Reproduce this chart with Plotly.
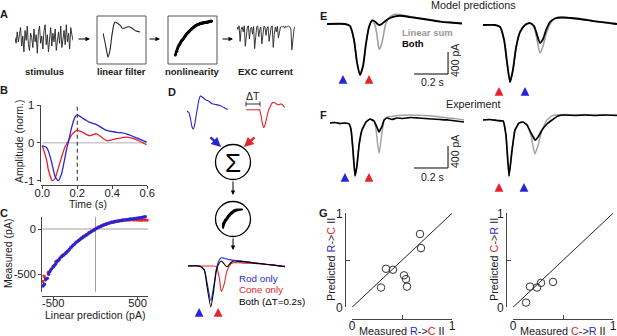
import plotly.graph_objects as go

W, H = 617, 336
FONT = "Liberation Sans, Arial, Helvetica, sans-serif"
BLUE = "#2626d6"
RED = "#e3242b"
LGRAY = "#a0a0a0"
AXC = "#444444"
TXT = "#1a1a1a"

# ---------------- data ----------------
# A: schematic LN model
a_stimulus = [0.1, -0.3, 0.5, -0.2, 0.3, 0.8, -0.5, 0.2, -0.9, 0.6, -0.1, 0.9, -0.4, -0.8, 0.4, 0.1,
              -0.6, 0.7, -0.2, 0.3, -1.0, 0.5, 0.9, -0.3, 0.2, -0.7, 0.6, 1.0, -0.4, 0.3, -0.9, 0.2,
              0.8, -0.5, 0.4, -0.2, 0.7, -0.8, 0.1, 0.5, -0.3, 0.9, -0.6, 0.2, 0.6, -0.4, 1.0, -0.2,
              0.4, -0.7, 0.8, 0.3, -0.1]
a_filter_t = [0, 0.032, 0.065, 0.081, 0.114, 0.146, 0.178, 0.195, 0.227, 0.276, 0.308, 0.357,
              0.389, 0.438, 0.486, 0.535, 0.6]
a_filter = [0, -0.375, -0.83, -1.0, -0.71, -0.08, 0.375, 0.46, 0.42, 0.33, 0.21, 0.21, 0.25,
            0.25, 0.17, 0.08, 0.04]
a_exc = [0, -0.1, 0.05, -0.6, -0.1, 0, -0.2, 0.05, -0.8, -0.2, 0, 0.05, -0.5, -0.1, 0, -0.3, 0.02,
         -0.9, -0.3, 0, 0.05, -0.4, -0.1, 0, -0.7, -0.2, 0.03, 0, -0.35, -0.05, 0.02, -0.6, -0.15, 0,
         0.05, -0.85, -0.3, 0, -0.2, 0.03, -0.45, -0.1, 0, 0.02, 0, 0.04, -0.05, 0.03, 0, 0.02, 0.04,
         0, -0.1, -0.95, -0.5, -0.1, 0.02]

# B: linear filters (normalised)
b_time = [0.0, 0.025, 0.034, 0.053, 0.057, 0.072, 0.082, 0.091, 0.11, 0.13, 0.139, 0.149, 0.168,
          0.187, 0.2, 0.234, 0.253, 0.272, 0.31, 0.367, 0.425, 0.48, 0.54, 0.596]
b_rod = [-0.07, -0.12, -0.2, -0.5, -0.58, -0.87, -0.96, -1.0, -0.82, -0.38, -0.17, 0.02, 0.41,
         0.68, 0.74, 0.64, 0.59, 0.54, 0.48, 0.33, 0.28, 0.24, 0.13, 0.02]
b_cone = [-0.07, -0.45, -0.69, -0.97, -1.0, -0.95, -0.82, -0.68, -0.38, -0.1, -0.03, 0.05, 0.21,
          0.3, 0.33, 0.27, 0.22, 0.19, 0.24, 0.06, 0.11, 0.15, 0.08, -0.05]
b_peak_time = 0.2

# C: static nonlinearity (pA)
c_rod_x = [-620, -605, -590, -570, -555, -540, -520, -500, -485, -470, -455, -440, -420, -400, -385,
           -370, -350, -330, -310, -290, -270, -250, -230, -210, -190, -170, -150, -130, -110, -90,
           -70, -50, -30, -10, 10, 30, 50, 70, 90, 110, 130, 150, 170, 190, 210, 230, 250, 270, 290,
           310, 330, 350, 370, 390, 410, 430, 450, 470, 490, 510, 530, 550, 570, 590, 610]
c_rod_y = [-630, -610, -560, -545, -500, -470, -440, -420, -400, -385, -360, -345, -320, -305, -290,
           -280, -262, -245, -225, -205, -185, -168, -150, -135, -122, -108, -93, -80, -68, -55,
           -42, -30, -18, -8, 5, 15, 24, 33, 42, 50, 56, 62, 68, 74, 78, 83, 87, 90, 93,
           96, 99, 101, 104, 107, 110, 112, 114, 117, 120, 123, 125, 128, 132, 136, 140]
c_cone_x = [-625, -610, -595, -560, -530, -500, -470, -450, -430, -400, -380, -350, -320, -290, -260,
            -230, -200, -170, -140, -110, -80, -50, -20, 10, 40, 70, 100, 130, 160, 190, 220, 250,
            280, 310, 340, 370, 400, 430, 460, 490, 520, 550, 580, 610]
c_cone_y = [-580, -520, -540, -480, -450, -410, -360, -350, -340, -300, -290, -270, -240, -205, -175,
            -145, -125, -100, -80, -62, -42, -25, -8, 8, 22, 34, 45, 56, 65, 72, 78, 83, 88, 92,
            96, 98, 100, 101, 100, 100, 98, 97, 100, 98]

# D: model output for rod / cone / both (normalised)
d_time = [0.0, 0.12, 0.17, 0.2, 0.24, 0.27, 0.3, 0.33, 0.35, 0.38, 0.41, 0.45, 0.48, 0.53, 0.6,
          0.7, 0.8, 0.9, 1.02]
d_rod = [0, 0, -0.08, -0.4, -0.85, -0.5, -0.05, 0.15, 0.2, 0.19, 0.17, 0.15, 0.14, 0.13, 0.11,
         0.08, 0.05, 0.02, -0.02]
d_cone = [0, 0, 0, 0, 0, 0, -0.02, -0.3, -0.62, -0.45, -0.12, 0.05, 0.08, 0.08, 0.07, 0.06, 0.04,
          0.02, 0]
d_both = [0, 0, -0.1, -0.5, -1.0, -0.6, -0.1, 0.08, 0.12, 0.05, -0.02, 0.08, 0.12, 0.11, 0.1,
          0.07, 0.05, 0.02, -0.02]
d_delay = 0.2
d_rod_flash, d_cone_flash = 0.117, 0.317

# E: model predictions (pA), left = rod first, right = cone first
e1_t = [0.0, 0.106, 0.135, 0.159, 0.176, 0.194, 0.212, 0.229, 0.247, 0.265, 0.282, 0.294, 0.306,
        0.312, 0.324, 0.335, 0.347, 0.371, 0.4, 0.429, 0.488, 0.547, 0.606, 0.665, 0.724, 0.794]
e1_both = [0, 0, -36, -290, -690, -927, -764, -364, -55, 64, 45, 10, -18, -15, 5, 35, 65, 110, 140,
           150, 127, 100, 73, 45, 27, 9]
e1_sum = [0, 0, -36, -290, -690, -927, -764, -364, -55, 64, -20, -200, -455, -440, -330, -150, 20,
          130, 175, 170, 135, 105, 78, 50, 30, 12]
e1_flash_rod, e1_flash_cone = 0.094, 0.247
e2_t = [0.0, 0.071, 0.1, 0.124, 0.141, 0.159, 0.176, 0.194, 0.218, 0.247, 0.276, 0.3, 0.318, 0.335,
        0.353, 0.371, 0.394, 0.424, 0.465, 0.512, 0.571, 0.629, 0.688, 0.747, 0.788]
e2_both = [0, 0, -36, -273, -673, -1036, -818, -418, -127, 0, 36, -18, -182, -327, -255, -91, 55,
           118, 136, 127, 109, 82, 55, 36, 18]
e2_sum = [0, 0, -36, -273, -673, -1036, -818, -418, -127, 0, 36, -40, -273, -509, -382, -164, 18,
          125, 140, 130, 112, 85, 58, 38, 20]
e2_flash_cone, e2_flash_rod = 0.094, 0.247

# F: experiment (pA)
f1_t = [0.0, 0.029, 0.059, 0.088, 0.112, 0.124, 0.135, 0.147, 0.159, 0.171, 0.188, 0.212, 0.235,
        0.259, 0.271, 0.282, 0.288, 0.294, 0.306, 0.318, 0.335, 0.365, 0.394, 0.429, 0.471, 0.518,
        0.559, 0.6, 0.647, 0.694, 0.741, 0.788]
f1_both = [0, 9, -9, 0, -18, -127, -491, -964, -764, -400, -127, 18, 73, 36, -40, -120, -164, -130,
           -60, 55, 91, 64, 91, 82, 100, 91, 82, 73, 64, 55, 36, 18]
f1_sum = [0, 9, -9, 0, -18, -127, -491, -964, -764, -400, -127, 18, 73, 30, -127, -436, -545, -455,
          -164, 36, 109, 120, 136, 140, 145, 140, 136, 127, 109, 91, 80, 55]
f1_flash_rod, f1_flash_cone = 0.088, 0.229
f2_t = [0.0, 0.041, 0.082, 0.118, 0.135, 0.153, 0.171, 0.188, 0.212, 0.235, 0.259, 0.282, 0.294,
        0.306, 0.324, 0.347, 0.376, 0.406, 0.441, 0.482, 0.541, 0.6, 0.659, 0.718, 0.788]
f2_both = [0, 9, -9, -18, -273, -1018, -545, -182, -55, -36, -91, -236, -300, -364, -309, -182, -73,
           0, 73, 91, 82, 91, 82, 91, 82]
f2_sum = [0, 9, -9, -18, -273, -1018, -545, -182, -55, -36, -91, -273, -480, -618, -455, -182, 0,
          73, 95, 100, 95, 100, 92, 98, 90]
f2_flash_cone, f2_flash_rod = 0.094, 0.241

scale_t, scale_pA = 0.2, 400

# G: interaction index
g1_meas = [0.29, 0.34, 0.41, 0.52, 0.54, 0.55, 0.68, 0.69]
g1_pred = [0.21, 0.41, 0.40, 0.34, 0.30, 0.22, 0.78, 0.63]
g2_meas = [0.13, 0.17, 0.24, 0.28, 0.40]
g2_pred = [0.05, 0.22, 0.21, 0.26, 0.27]
g_unity = [0, 1]

# ---------------- helpers ----------------
fig = go.Figure()
layout = {}
annotations = []
shapes = []
_n = [0]


def px(x):
    return x / W


def py(y):
    return 1 - y / H


def new_axes(x0, x1, y0, y1, xr, yr, xkw=None, ykw=None):
    _n[0] += 1
    s = "" if _n[0] == 1 else str(_n[0])
    xa = dict(domain=[px(x0), px(x1)], range=xr, anchor="y" + s, visible=False,
              showgrid=False, zeroline=False, fixedrange=True, automargin=False)
    ya = dict(domain=[py(y1), py(y0)], range=yr, anchor="x" + s, visible=False,
              showgrid=False, zeroline=False, fixedrange=True, automargin=False)
    if xkw:
        xa.update(xkw)
    if ykw:
        ya.update(ykw)
    layout["xaxis" + s] = xa
    layout["yaxis" + s] = ya
    return "x" + s, "y" + s


def line(ax, x, y, color, width=1.3, dash=None, shape="spline", smooth=0.6):
    fig.add_trace(go.Scatter(x=x, y=y, xaxis=ax[0], yaxis=ax[1], mode="lines",
                             line=dict(color=color, width=width, dash=dash, shape=shape,
                                       smoothing=smooth if shape == "spline" else None),
                             hoverinfo="skip", cliponaxis=False))


def dots(ax, x, y, color, size=3.5, symbol="circle", lw=0):
    fig.add_trace(go.Scatter(x=x, y=y, xaxis=ax[0], yaxis=ax[1], mode="markers",
                             marker=dict(color=color, size=size, symbol=symbol,
                                         line=dict(width=lw, color="#333")),
                             hoverinfo="skip", cliponaxis=False))


def text(x, y, s, size=10.5, color=TXT, bold=False, angle=0, xanchor="center"):
    if bold:
        s = "<b>" + s + "</b>"
    annotations.append(dict(x=px(x), y=py(y), xref="paper", yref="paper", text=s,
                            showarrow=False, textangle=angle, xanchor=xanchor, yanchor="middle",
                            font=dict(family=FONT, size=size, color=color)))


def arrow(x0, y0, x1, y1, color="black", width=1, head=2, size=1.0):
    annotations.append(dict(x=px(x1), y=py(y1), ax=x0 - x1, ay=y0 - y1, xref="paper",
                            yref="paper", text="",
                            showarrow=True, arrowhead=head, arrowsize=size,
                            arrowwidth=width, arrowcolor=color))


def flash(ax, t, ytip, color):
    annotations.append(dict(x=t, y=py(ytip), xref=ax[0], yref="paper", text="",
                            showarrow=True, ax=0, ay=8, arrowhead=2, arrowsize=1.1,
                            arrowwidth=1.6, arrowcolor=color))


def rect(x0, y0, x1, y1):
    shapes.append(dict(type="rect", xref="paper", yref="paper", x0=px(x0), x1=px(x1),
                       y0=py(y1), y1=py(y0), line=dict(color="#555", width=1)))


def circle(cx, cy, r):
    shapes.append(dict(type="circle", xref="paper", yref="paper", x0=px(cx - r), x1=px(cx + r),
                       y0=py(cy + r), y1=py(cy - r), line=dict(color="black", width=1.3)))


def seg(x0, y0, x1, y1, color="black", width=1):
    shapes.append(dict(type="line", xref="paper", yref="paper", x0=px(x0), x1=px(x1),
                       y0=py(y0), y1=py(y1), line=dict(color=color, width=width)))


def scalebar(ax, t0, i0):
    for (xa0, xa1, ya0, ya1) in [(t0, t0 + scale_t, i0, i0),
                                 (t0 + scale_t, t0 + scale_t, i0, i0 + scale_pA)]:
        shapes.append(dict(type="line", xref=ax[0], yref=ax[1], x0=xa0, x1=xa1, y0=ya0, y1=ya1,
                           line=dict(color="black", width=1)))


def vis_axis(tickvals, ticktext, ticks="outside", **kw):
    d = dict(visible=True, showline=True, linecolor=AXC, linewidth=1, ticks=ticks, ticklen=4,
             tickcolor=AXC, tickwidth=1, tickvals=tickvals, ticktext=ticktext,
             tickfont=dict(family=FONT, size=11.2, color=TXT))
    d.update(kw)
    return d


# ---------------- panel labels ----------------
for lab, x, y in [("A", 4, 14), ("B", 4, 90), ("C", 4, 213), ("D", 172, 92), ("E", 323, 16),
                  ("F", 324, 115), ("G", 323, 213)]:
    text(x, y, lab, size=11, bold=True)

# ---------------- A ----------------
ax = new_axes(15, 73, 24, 54, [0, len(a_stimulus) - 1], [-1.05, 1.05])
line(ax, list(range(len(a_stimulus))), a_stimulus, "#222", 0.9, shape="linear")
arrow(77, 39, 90, 39, width=1, size=0.9)
rect(97, 16, 146, 64)
ax = new_axes(103, 140, 19.8, 58.2, [0, 0.6], [-1.05, 0.55])
line(ax, a_filter_t, a_filter, "#222", 1.1)
arrow(148, 39, 160, 39, width=1, size=0.9)
rect(168, 16, 217, 64)
ax = new_axes(175, 212, 21, 58, [-630, 626], [-699, 140])
dots(ax, c_rod_x, c_rod_y, "black", size=3.0)
arrow(221, 39, 233, 39, width=1, size=0.9)
ax = new_axes(237, 295, 21, 52.2, [0, len(a_exc) - 1], [-1.05, 0.25])
line(ax, list(range(len(a_exc))), a_exc, "#222", 0.9, shape="linear")
text(45, 71, "stimulus", size=9.5, bold=True)
text(121, 71, "linear filter", size=9.5, bold=True)
text(192, 71, "nonlinearity", size=9.5, bold=True)
text(266, 71, "EXC current", size=9.5, bold=True)

# ---------------- B ----------------
ax = new_axes(40.5, 147.3, 105, 181.5, [-0.01, 0.6], [-1.02, 1.0],
              xkw=vis_axis([0, 0.2, 0.4, 0.6], ["0.0", "0.2", "0.4", "0.6"],
                           anchor="free", position=py(184.5), ticklen=3, ticklabelstandoff=-5),
              ykw=vis_axis([-1, 0, 1], ["-1", "0", "1"], ticklen=3))
line(ax, [0, 0.6], [0, 0], "#b0b0b0", 1, shape="linear")
line(ax, [b_peak_time, b_peak_time], [-1, 1], "#222", 1, dash="4px,3px", shape="linear")
line(ax, b_time, b_cone, RED, 1.3)
line(ax, b_time, b_rod, BLUE, 1.3)
text(88, 204, "Time (s)", size=10.5)
text(19, 142, "Amplitude (norm.)", size=10.5, angle=-90)

# ---------------- C ----------------
ax = new_axes(42.3, 148.3, 216.7, 292.3, [-630, 626], [-699, 136],
              xkw=vis_axis([-500, 500], ["-500", "500"], anchor="free", position=py(296),
                           ticklen=3, ticklabelstandoff=-6),
              ykw=vis_axis([-500, 0], ["-500", "0"], ticklen=3))
line(ax, [-630, 626], [0, 0], "#a0a0a0", 1, shape="linear")
line(ax, [0, 0], [-699, 136], "#a0a0a0", 1, shape="linear")
dots(ax, c_cone_x, c_cone_y, RED, size=3.4)
dots(ax, c_rod_x, c_rod_y, BLUE, size=3.4)
text(95, 315, "Linear prediction (pA)", size=10.5)
text(8, 254, "Measured (pA)", size=10.5, angle=-90)

# ---------------- D ----------------
ax = new_axes(187, 228, 93.8, 130.9, [0, 0.6], [-1.1, 0.85])
line(ax, b_time, b_rod, BLUE, 1.1)
cone_shift_t = [0.0, d_delay] + [t + d_delay for t in b_time if t <= 0.4]
cone_shift_y = [b_cone[0], b_cone[0]] + [v for t, v in zip(b_time, b_cone) if t <= 0.4]
ax = new_axes(246, 287, 92.3, 129.4, [0, 0.6], [-1.1, 0.85])
line(ax, cone_shift_t, cone_shift_y, RED, 1.1)
text(253, 96, "ΔT", size=10.5)
seg(246, 104, 260, 104, "#333", 1)
seg(246, 101.5, 246, 106.5, "#333", 1)
seg(260, 101.5, 260, 106.5, "#333", 1)
arrow(209, 136, 221, 147, BLUE, width=2.4, size=0.8)
arrow(256, 136, 244, 147, RED, width=2.4, size=0.8)
circle(233, 162, 17.5)
text(233, 163, "Σ", size=26, color="black")
arrow(233, 180, 233, 195, width=1, size=0.9)
circle(233, 219, 17.5)
ax = new_axes(222, 243, 208.5, 230, [-630, 626], [-699, 140])
line(ax, c_rod_x, c_rod_y, "black", 3.2)
arrow(233, 237, 233, 250, width=1, size=0.9)
ax = new_axes(188, 285, 253.7, 309, [0, 1.02], [-1.05, 0.3])
line(ax, d_time, d_cone, RED, 1.1)
line(ax, d_time, d_rod, BLUE, 1.1)
line(ax, d_time, d_both, "black", 1.1)
flash(ax, d_rod_flash, 308, BLUE)
flash(ax, d_cone_flash, 308, RED)
text(237, 278, "Rod only", size=9.8, color=BLUE, xanchor="left")
text(237, 289, "Cone only", size=9.8, color=RED, xanchor="left")
text(237, 301, "Both (ΔT=0.2s)", size=9.8, color="black", xanchor="left")

# ---------------- E ----------------
text(473, 5, "Model predictions", size=10.8)
ax = new_axes(327, 462, 10.25, 92.75, [0, 0.794], [-1250, 250])
line(ax, e1_t, e1_sum, LGRAY, 1.6)
line(ax, e1_t, e1_both, "black", 1.8)
flash(ax, e1_flash_rod, 75, BLUE)
flash(ax, e1_flash_cone, 75, RED)
scalebar(ax, 0.512, -909)
text(400, 33, "Linear sum", size=9.5, color="#999999", bold=True, xanchor="left")
text(400, 43, "Both", size=9.5, color="black", bold=True, xanchor="left")
text(432, 82, "0.2 s", size=10.5)
text(455, 61, "400 pA", size=10.5, angle=-90)
ax = new_axes(483, 617, 11.25, 93.75, [0, 0.788], [-1250, 250])
line(ax, e2_t, e2_sum, LGRAY, 1.6)
line(ax, e2_t, e2_both, "black", 1.8)
flash(ax, e2_flash_cone, 87, RED)
flash(ax, e2_flash_rod, 87, BLUE)

# ---------------- F ----------------
text(473, 104, "Experiment", size=10.8)
ax = new_axes(330, 464, 106.5, 183.5, [0, 0.788], [-1100, 300])
line(ax, f1_t, f1_sum, LGRAY, 1.4, smooth=0.3)
line(ax, f1_t, f1_both, "black", 1.7, smooth=0.3)
flash(ax, f1_flash_rod, 173, BLUE)
flash(ax, f1_flash_cone, 173, RED)
scalebar(ax, 0.494, -818)
text(433, 177, "0.2 s", size=10.5)
text(455, 152, "400 pA", size=10.5, angle=-90)
ax = new_axes(483, 617, 103.5, 180.5, [0, 0.788], [-1100, 300])
line(ax, f2_t, f2_sum, LGRAY, 1.4, smooth=0.3)
line(ax, f2_t, f2_both, "black", 1.7, smooth=0.3)
flash(ax, f2_flash_cone, 183, RED)
flash(ax, f2_flash_rod, 183, BLUE)

# ---------------- G ----------------
for (gx0, yaxpos, meas, pred, first, second, c1, c2, tx, ty) in [
        (352, 345, g1_meas, g1_pred, "R", "C", BLUE, RED, 402, 331),
        (513, 506, g2_meas, g2_pred, "C", "R", RED, BLUE, 563, 494)]:
    ax = new_axes(gx0, gx0 + 100, 213.3, 307.3, [0, 1], [0, 1],
                  xkw=vis_axis([0, 0.5, 1], ["0", "", "1"], ticks="inside",
                               anchor="free", position=py(319), ticklabelstandoff=-4,
                               tickfont=dict(family=FONT, size=12, color=TXT)),
                  ykw=vis_axis([0, 0.5, 1], ["0", "", "1"], ticks="inside",
                               anchor="free", position=px(yaxpos),
                               tickfont=dict(family=FONT, size=12, color=TXT)))
    line(ax, g_unity, g_unity, "#222", 1, shape="linear")
    dots(ax, meas, pred, "rgba(0,0,0,0)", size=7.5, lw=1)
    lab = ('<span style="color:%s">%s</span>-><span style="color:%s">%s</span> II'
           % (c1, first, c2, second))
    text(tx, 331, "Measured " + lab, size=10.8)
    text(ty, 260, "Predicted " + lab, size=10.8, angle=-90)

layout.update(dict(width=W, height=H, margin=dict(l=0, r=0, t=0, b=0, autoexpand=False),
                   showlegend=False, template="none",
                   paper_bgcolor="white", plot_bgcolor="rgba(0,0,0,0)",
                   annotations=annotations, shapes=shapes,
                   font=dict(family=FONT, size=11, color=TXT)))
fig.update_layout(**layout)
fig.write_html("out.html", include_plotlyjs=True, config={"displayModeBar": False},
               post_script="document.body.style.margin='0';"
                           "document.body.style.overflow='hidden';")
